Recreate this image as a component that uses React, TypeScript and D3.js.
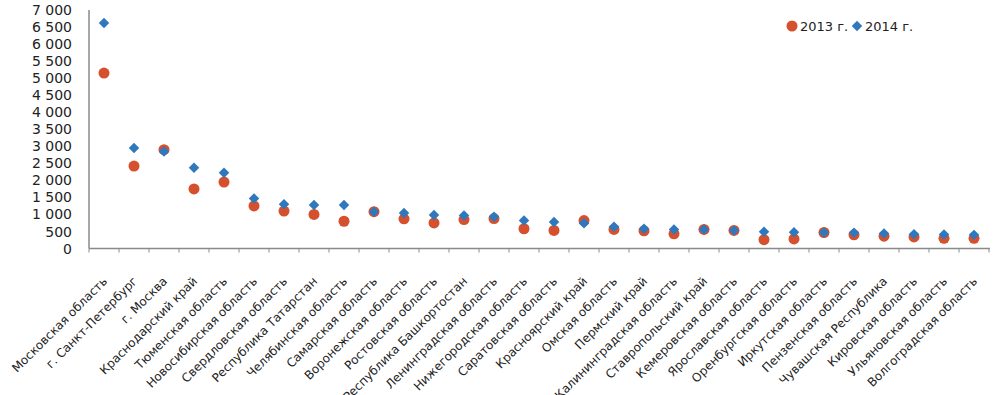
import * as d3 from 'd3';

// regions, in the order they appear on the x axis
const regions = [
  'Московская область', 'г. Санкт-Петербург', 'г. Москва', 'Краснодарский край',
  'Тюменская область', 'Новосибирская область', 'Свердловская область', 'Республика Татарстан',
  'Челябинская область', 'Самарская область', 'Воронежская область', 'Ростовская область',
  'Республика Башкортостан', 'Ленинградская область', 'Нижегородская область', 'Саратовская область',
  'Красноярский край', 'Омская область', 'Пермский край', 'Калининградская область',
  'Ставропольский край', 'Кемеровская область', 'Ярославская область', 'Оренбургская область',
  'Иркутская область', 'Пензенская область', 'Чувашская Республика', 'Кировская область',
  'Ульяновская область', 'Волгоградская область',
];

const values2013 = [
  5150, 2420, 2900, 1750, 1950, 1250, 1100, 1000, 800, 1080,
  870, 750, 850, 880, 580, 530, 820, 560, 520, 430,
  560, 530, 260, 280, 470, 400, 360, 340, 300, 300,
];

const values2014 = [
  6620, 2950, 2850, 2370, 2220, 1470, 1300, 1280, 1280, 1080,
  1040, 980, 970, 930, 820, 780, 740, 640, 580, 560,
  560, 530, 490, 480, 470, 460, 440, 420, 410, 400,
];

const yTicks = [0, 500, 1000, 1500, 2000, 2500, 3000, 3500, 4000, 4500, 5000, 5500, 6000, 6500, 7000];
const seriesNames = ['2013 г.', '2014 г.'];

const RED = '#d5502c';
const BLUE = '#2f78bd';
const AXIS = '#8a8a8a';
const FONT = 'DejaVu Sans, Verdana, sans-serif';

const fmt = d3.formatLocale({ decimal: ',', thousands: ' ', grouping: [3], currency: ['', ''] }).format(',d');

export default function App() {
  const width = 1000;
  const height = 395;

  const x = d3.scaleBand<string>().domain(regions).range([89, 989]);
  const y = d3.scaleLinear().domain([0, 7000]).range([248.5, 10]);

  const diamond = d3.symbol(d3.symbolDiamond2, 70)() as string;
  const bounds = regions.map(r => x(r) as number).concat([989]);

  return (
    <svg width={width} height={height} style={{ position: 'absolute', left: 0, top: 0 }}>
      <rect width={width} height={height} fill="#fff" />

      {/* y axis */}
      <line x1={89} x2={89} y1={y(7000)} y2={y(0)} stroke={AXIS} strokeWidth={1.5} />
      {yTicks.map(t => (
        <text key={t} x={72} y={y(t)} dy="0.36em" textAnchor="end" fontFamily={FONT} fontSize={14} fill="#222">
          {fmt(t)}
        </text>
      ))}

      {/* x axis */}
      <line x1={89} x2={990} y1={y(0)} y2={y(0)} stroke={AXIS} strokeWidth={1.5} />
      {bounds.map((b, i) => (
        <line key={i} x1={b} x2={b} y1={y(0)} y2={y(0) + 4} stroke={AXIS} strokeWidth={1} />
      ))}
      {regions.map(r => {
        const cx = (x(r) as number) + x.bandwidth() / 2;
        return (
          <text key={r} transform={`translate(${cx + 4},282) rotate(-45)`} textAnchor="end"
            fontFamily={FONT} fontSize={12} fill="#222">
            {r}
          </text>
        );
      })}

      {/* 2013 */}
      {regions.map((r, i) => (
        <circle key={'a' + i} cx={(x(r) as number) + x.bandwidth() / 2} cy={y(values2013[i])} r={5.5} fill={RED} />
      ))}
      {/* 2014 */}
      {regions.map((r, i) => (
        <path key={'b' + i} d={diamond} fill={BLUE}
          transform={`translate(${(x(r) as number) + x.bandwidth() / 2},${y(values2014[i])})`} />
      ))}

      {/* legend */}
      <circle cx={792} cy={26} r={5.5} fill={RED} />
      <text x={800} y={26} dy="0.36em" fontFamily={FONT} fontSize={13} fill="#222">{seriesNames[0]}</text>
      <path d={diamond} fill={BLUE} transform="translate(857,26)" />
      <text x={865} y={26} dy="0.36em" fontFamily={FONT} fontSize={13} fill="#222">{seriesNames[1]}</text>
    </svg>
  );
}
